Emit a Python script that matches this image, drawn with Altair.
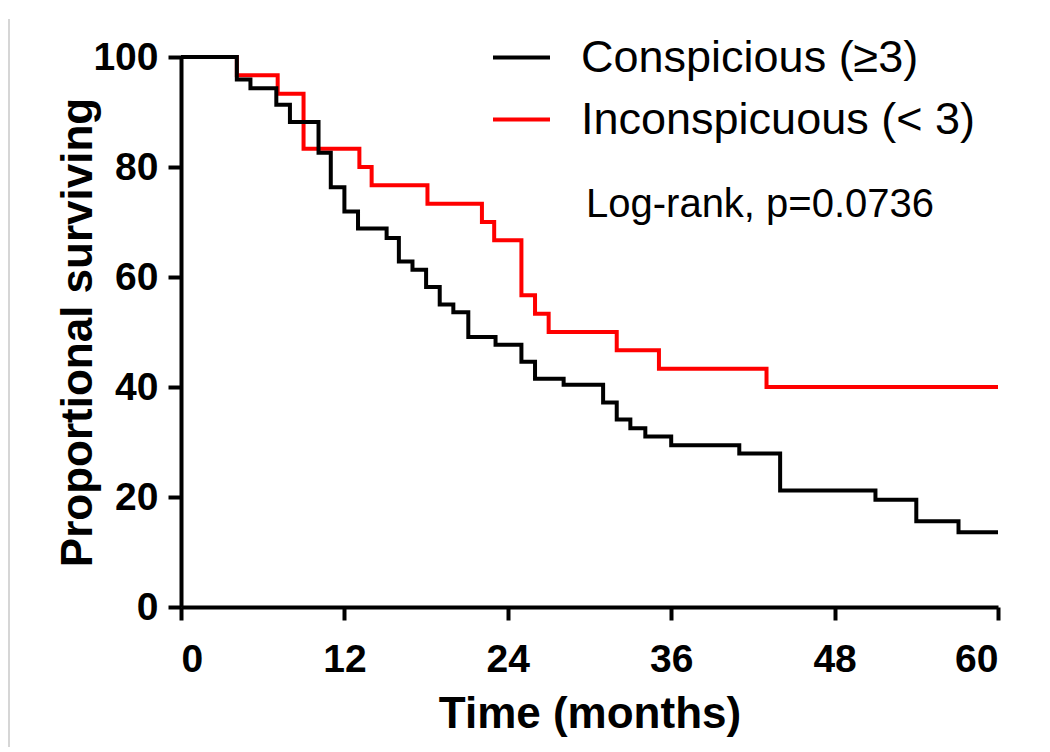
import altair as alt
import pandas as pd

# ---- data ----
groups = ["Conspicious (\u22653)", "Inconspicuous (< 3)"]
colors = ["#000000", "#ff0000"]

months_consp = [0, 4.1, 5.1, 7.0, 8.0, 10.1, 11.0, 12.0, 13.0, 15.1, 16.0, 17.0,
                18.0, 19.0, 20.0, 21.1, 23.1, 25.0, 26.0, 28.1, 31.0, 32.0, 33.0,
                34.1, 36.0, 41.0, 44.0, 51.0, 54.0, 57.1, 60]
surv_consp = [100, 95.9, 94.3, 91.3, 88.2, 82.6, 76.3, 71.9, 68.8, 67.1, 62.8, 61.3,
              58.2, 55.0, 53.6, 49.1, 47.7, 44.6, 41.5, 40.4, 37.2, 34.1, 32.5,
              31.0, 29.4, 27.9, 21.2, 19.5, 15.6, 13.6, 13.6]

months_incon = [0, 4.1, 7.1, 9.0, 13.1, 14.0, 18.1, 22.1, 23.0, 25.0, 26.0, 27.0,
                32.0, 35.1, 43.0, 60]
surv_incon = [100, 96.7, 93.3, 83.3, 80.0, 76.7, 73.3, 70.0, 66.7, 56.7, 53.3, 50.0,
              46.7, 43.3, 40.0, 40.0]

x_ticks = [0, 12, 24, 36, 48, 60]
y_ticks = [0, 20, 40, 60, 80, 100]
x_title = "Time (months)"
y_title = "Proportional surviving"
annotation = "Log-rank, p=0.0736"

FONT = "Liberation Sans"

df_c = pd.DataFrame({"month": months_consp, "surv": surv_consp, "group": groups[0]})
df_i = pd.DataFrame({"month": months_incon, "surv": surv_incon, "group": groups[1]})

x_enc = alt.X(
    "month:Q",
    scale=alt.Scale(domain=[0, 60], nice=False),
    axis=alt.Axis(values=x_ticks, title=x_title, labelPadding=20,
                  titleY=120, titleBaseline="alphabetic"),
)
y_enc = alt.Y(
    "surv:Q",
    scale=alt.Scale(domain=[0, 100], nice=False),
    axis=alt.Axis(values=y_ticks, title=y_title, labelPadding=10,
                  titleX=-90, titleY=275, titleAngle=270,
                  titleBaseline="alphabetic", titleAlign="center"),
)
color_enc = alt.Color(
    "group:N",
    scale=alt.Scale(domain=groups, range=colors),
    legend=alt.Legend(title=None, orient="none", legendX=310, legendY=-30,
                      symbolType="stroke", symbolSize=3249, symbolStrokeWidth=4,
                      labelFont=FONT, labelFontSize=45, labelOffset=29,
                      labelLimit=1000, rowPadding=8, padding=0,
                      labelColor="#000000"),
)

line_i = alt.Chart(df_i).mark_line(interpolate="step-after", strokeWidth=4).encode(
    x=x_enc, y=y_enc, color=color_enc
)
line_c = alt.Chart(df_c).mark_line(interpolate="step-after", strokeWidth=4).encode(
    x=x_enc, y=y_enc, color=color_enc
)
note = alt.Chart(pd.DataFrame({"label": [annotation]})).mark_text(
    font=FONT, fontSize=40, align="left", baseline="alphabetic", color="#000000"
).encode(text="label:N", x=alt.value(405), y=alt.value(160))

# faint grey frame edge of the original screenshot (left side)
frame = alt.Chart(pd.DataFrame({"k": [0]})).mark_rule(
    color="#c8c8c8", strokeWidth=1.5
).encode(x=alt.value(-172), y=alt.value(-38), y2=alt.value(690))

chart = alt.layer(frame, line_i, line_c, note).properties(
    width=817, height=550,
    padding={"left": 173, "top": 49, "right": 30, "bottom": 140},
    autosize=alt.AutoSizeParams(type="none"),
).configure_view(strokeWidth=0).configure_axis(
    grid=False,
    domainColor="#000000", domainWidth=4,
    tickColor="#000000", tickWidth=4, tickSize=13,
    labelFont=FONT, labelFontSize=39, labelFontWeight="bold", labelColor="#000000",
    titleFont=FONT, titleFontSize=44, titleFontWeight="bold", titleColor="#000000",
)

chart.save("out.html", embed_options={"renderer": "svg", "actions": False})
